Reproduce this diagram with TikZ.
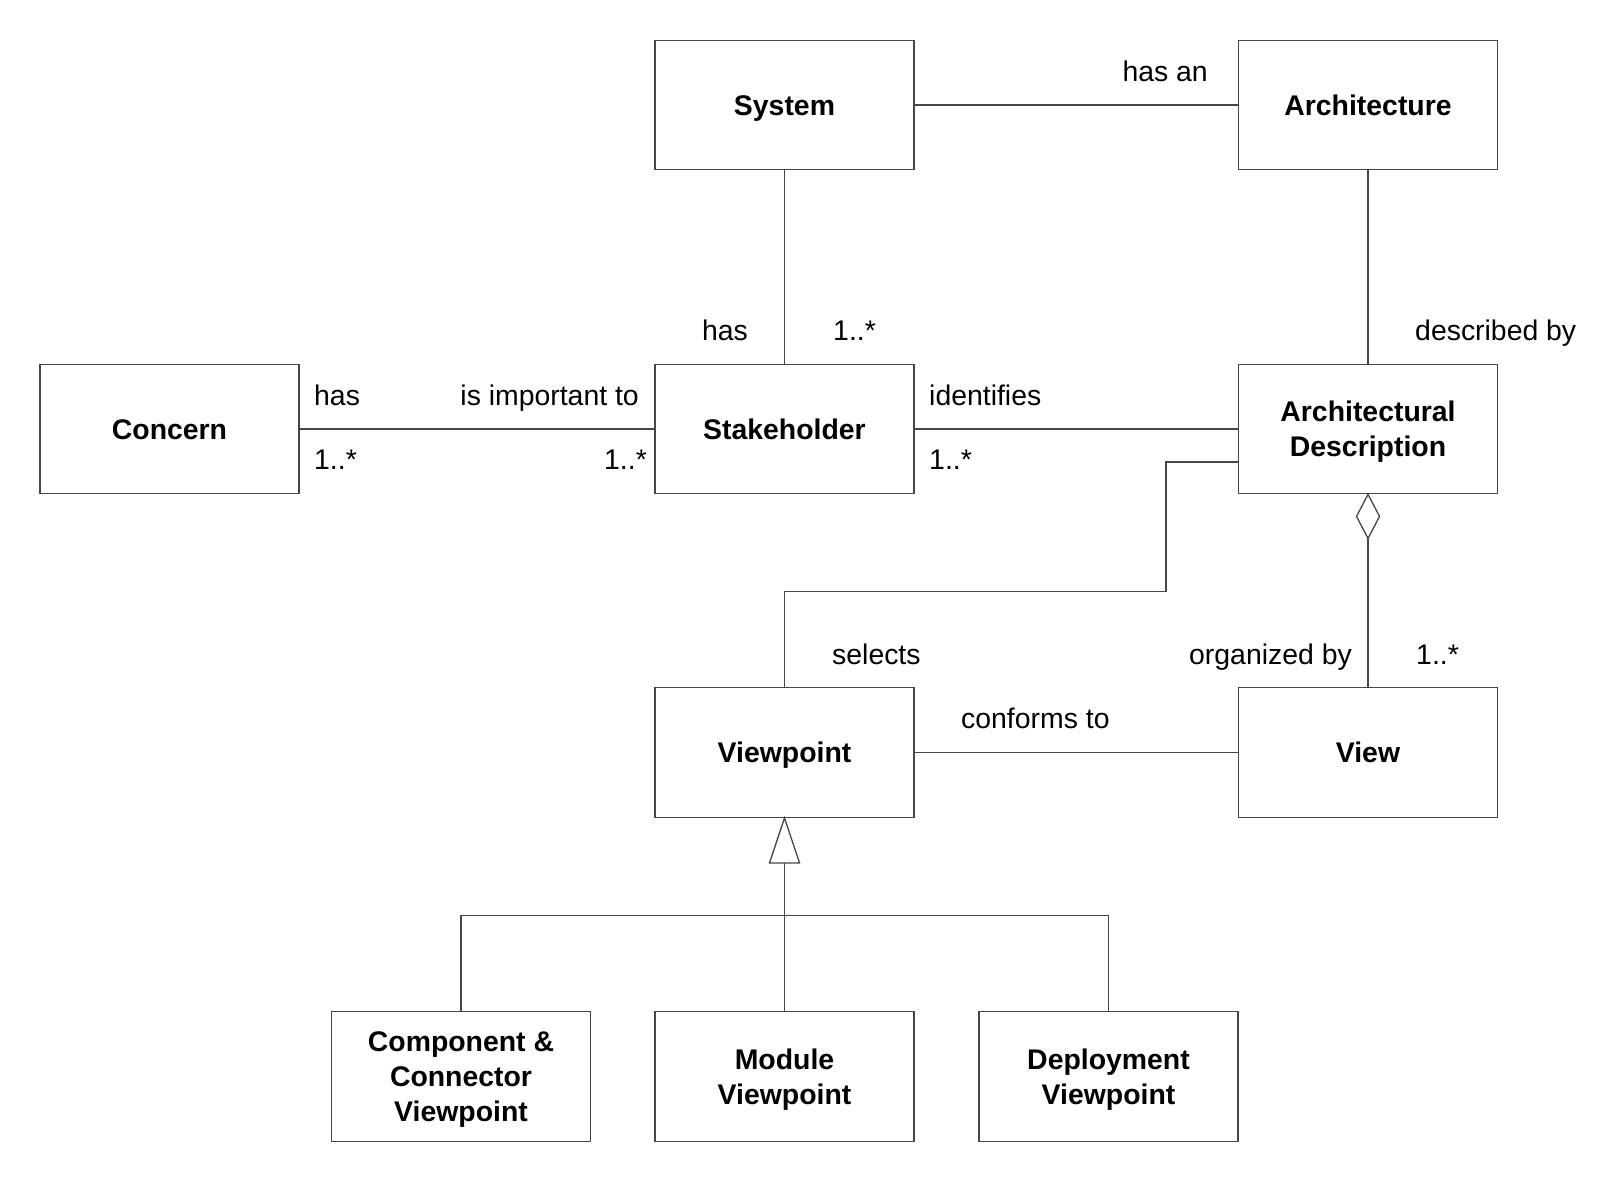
\documentclass[tikz,border=0pt]{standalone}
\usepackage{fontspec}
\setmainfont{Liberation Sans}
\usetikzlibrary{calc}
\newcommand\clstrut{\rule[-6pt]{0pt}{32pt}}
\tikzset{
  cls/.style={draw=black!72, line width=1.3pt, minimum width=259, minimum height=129.5, inner sep=0pt, align=center, font=\fontsize{28.4}{35}\selectfont\bfseries},
  lbl/.style={inner sep=0pt, font=\fontsize{28.4}{35}\selectfont},
  conn/.style={draw=black!72, line width=1.3pt},
}
\begin{document}
\begin{tikzpicture}[x=1pt,y=-1pt]
\fill[white] (0,0) rectangle (1624,1199);
\useasboundingbox (0,0) rectangle (1624,1199);
% classes
\node[cls] (sys) at (784.5,105) {\clstrut System};
\node[cls] (arch) at (1368,105) {\clstrut Architecture};
\node[cls] (con) at (169.5,429) {\clstrut Concern};
\node[cls] (stk) at (784.5,429) {\clstrut Stakeholder};
\node[cls] (ad) at (1368,429) {\clstrut Architectural\\\clstrut Description};
\node[cls] (vp) at (784.5,752.5) {\clstrut Viewpoint};
\node[cls] (view) at (1368,752.5) {\clstrut View};
\node[cls] (cc) at (461,1076.5) {\clstrut Component \&\\\clstrut Connector\\\clstrut Viewpoint};
\node[cls] (mod) at (784.5,1076.5) {\clstrut Module\\\clstrut Viewpoint};
\node[cls] (dep) at (1108.5,1076.5) {\clstrut Deployment\\\clstrut Viewpoint};
% coordinates
\coordinate (adl) at ($(ad.west)+(0,33)$);
\coordinate (elbow) at (1166,591.4);
\coordinate (dbot) at ($(ad.south)+(0,44)$);
\coordinate (tbase) at ($(vp.south)+(0,45)$);
\coordinate (bus) at (784.5,915.6);
% connectors
\draw[conn] (sys) -- (arch);
\draw[conn] (sys) -- (stk);
\draw[conn] (arch) -- (ad);
\draw[conn] (con) -- (stk);
\draw[conn] (stk) -- (ad);
\draw[conn] (adl) -| (elbow) -| (vp.north);
\draw[conn] (vp) -- (view);
\draw[conn] (dbot) -- (view.north);
\draw[conn, fill=white] (ad.south) -- ++(11.5,22) -- (dbot) -- ++(-11.5,-22) -- cycle;
\draw[conn] (tbase) -- (mod.north);
\draw[conn] (cc.north) |- (bus) -| (dep.north);
\draw[conn, fill=white] (vp.south) -- ($(tbase)+(15,0)$) -- ($(tbase)+(-15,0)$) -- cycle;
% labels
\node[lbl, anchor=base east] (l1) at (1208,81.5) {has an};
\node[lbl, anchor=base east] (l2) at (748,340.5) {has};
\node[lbl, anchor=base west] (l3) at (833,340.5) {1..*};
\node[lbl, anchor=base west] (l4) at (1415,340.5) {described by};
\node[lbl, anchor=base west] (l5) at (314,405) {has};
\node[lbl, anchor=base east] (l6) at (639,405) {is important to};
\node[lbl, anchor=base west] (l7) at (314,469) {1..*};
\node[lbl, anchor=base east] (l8) at (647,469) {1..*};
\node[lbl, anchor=base west] (l9) at (929,405) {identifies};
\node[lbl, anchor=base west] (l10) at (929,469) {1..*};
\node[lbl, anchor=base west] (l11) at (832,664) {selects};
\node[lbl, anchor=base east] (l12) at (1352,664) {organized by};
\node[lbl, anchor=base west] (l13) at (1416,664) {1..*};
\node[lbl, anchor=base west] (l14) at (961,728) {conforms to};
\end{tikzpicture}
\end{document}
